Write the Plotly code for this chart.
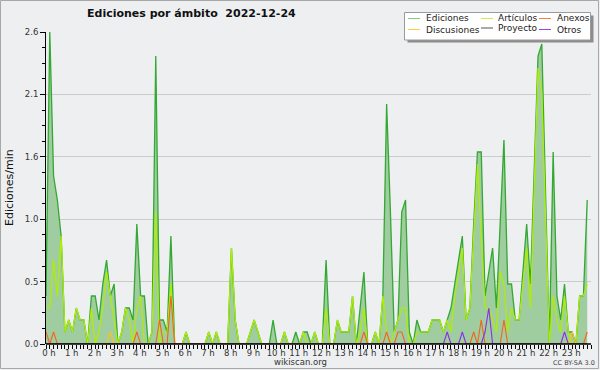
import plotly.graph_objects as go

# ---------------- data (edits per minute, 10-minute bins, 2022-12-24) ----------------
hora = [i / 6 for i in range(144)]  # bin start, in hours

ediciones = [
    0.4, 2.6, 1.4, 1.2, 0.9, 0.1, 0.2, 0.1, 0.3, 0.2, 0.2, 0.0,
    0.4, 0.4, 0.2, 0.5, 0.7, 0.4, 0.5, 0.0, 0.1, 0.3, 0.3, 0.2,
    1.0, 0.4, 0.4, 0.0, 0.1, 2.4, 0.2, 0.2, 0.1, 0.9, 0.0, 0.0,
    0.0, 0.1, 0.0, 0.0, 0.0, 0.0, 0.0, 0.1, 0.0, 0.1, 0.0, 0.0,
    0.0, 0.8, 0.2, 0.0, 0.0, 0.0, 0.1, 0.2, 0.1, 0.0, 0.0, 0.0,
    0.2, 0.0, 0.0, 0.1, 0.0, 0.0, 0.1, 0.0, 0.1, 0.1, 0.0, 0.1,
    0.0, 0.0, 0.7, 0.0, 0.0, 0.2, 0.1, 0.1, 0.1, 0.4, 0.0, 0.3,
    0.6, 0.0, 0.0, 0.1, 0.0, 0.4, 2.0, 1.1, 0.1, 0.2, 1.1, 1.2,
    0.1, 0.0, 0.2, 0.1, 0.1, 0.1, 0.2, 0.2, 0.2, 0.1, 0.2, 0.3,
    0.5, 0.7, 0.9, 0.2, 0.3, 1.0, 1.6, 1.6, 0.4, 0.6, 0.8, 0.3,
    1.0, 1.7, 0.5, 0.5, 0.2, 0.2, 0.6, 1.0, 0.5, 1.5, 2.4, 2.5,
    1.3, 0.0, 1.6, 0.4, 0.2, 0.5, 0.1, 0.1, 0.0, 0.4, 0.4, 1.2,
]

articulos = [
    0.3, 0.3, 0.7, 0.4, 0.9, 0.1, 0.2, 0.1, 0.3, 0.2, 0.2, 0.0,
    0.3, 0.0, 0.1, 0.3, 0.6, 0.4, 0.2, 0.0, 0.1, 0.3, 0.2, 0.0,
    0.3, 0.4, 0.0, 0.0, 0.1, 1.1, 0.0, 0.1, 0.1, 0.5, 0.0, 0.0,
    0.0, 0.1, 0.0, 0.0, 0.0, 0.0, 0.0, 0.1, 0.0, 0.1, 0.0, 0.0,
    0.0, 0.8, 0.2, 0.0, 0.0, 0.0, 0.1, 0.2, 0.1, 0.0, 0.0, 0.0,
    0.0, 0.0, 0.0, 0.1, 0.0, 0.0, 0.0, 0.0, 0.1, 0.0, 0.0, 0.1,
    0.0, 0.0, 0.3, 0.0, 0.0, 0.2, 0.1, 0.1, 0.1, 0.4, 0.0, 0.1,
    0.3, 0.0, 0.0, 0.1, 0.0, 0.4, 0.1, 0.0, 0.1, 0.2, 0.3, 0.3,
    0.0, 0.0, 0.1, 0.1, 0.1, 0.1, 0.2, 0.2, 0.2, 0.1, 0.2, 0.1,
    0.4, 0.6, 0.8, 0.2, 0.3, 0.9, 1.5, 0.9, 0.3, 0.3, 0.2, 0.1,
    0.6, 0.5, 0.1, 0.3, 0.2, 0.2, 0.5, 0.8, 0.3, 1.3, 2.3, 2.1,
    1.0, 0.0, 0.4, 0.2, 0.1, 0.4, 0.1, 0.0, 0.0, 0.4, 0.4, 0.5,
]

anexos = [
    0.1, 0.0, 0.1, 0.0, 0.0, 0.0, 0.0, 0.0, 0.0, 0.0, 0.0, 0.0,
    0.0, 0.0, 0.0, 0.0, 0.0, 0.0, 0.0, 0.0, 0.0, 0.0, 0.0, 0.0,
    0.1, 0.0, 0.0, 0.0, 0.0, 0.0, 0.2, 0.0, 0.0, 0.4, 0.0, 0.0,
    0.0, 0.0, 0.0, 0.0, 0.0, 0.0, 0.0, 0.0, 0.0, 0.0, 0.0, 0.0,
    0.0, 0.0, 0.0, 0.0, 0.0, 0.0, 0.0, 0.0, 0.0, 0.0, 0.0, 0.0,
    0.0, 0.0, 0.0, 0.0, 0.0, 0.0, 0.0, 0.0, 0.0, 0.0, 0.0, 0.0,
    0.0, 0.0, 0.0, 0.0, 0.0, 0.0, 0.0, 0.0, 0.0, 0.0, 0.0, 0.0,
    0.1, 0.0, 0.0, 0.0, 0.0, 0.0, 0.1, 0.0, 0.0, 0.1, 0.1, 0.0,
    0.0, 0.0, 0.0, 0.0, 0.0, 0.0, 0.0, 0.0, 0.0, 0.0, 0.0, 0.0,
    0.0, 0.0, 0.0, 0.0, 0.0, 0.1, 0.0, 0.2, 0.0, 0.0, 0.0, 0.0,
    0.0, 0.2, 0.0, 0.0, 0.0, 0.0, 0.0, 0.0, 0.0, 0.0, 0.0, 0.0,
    0.0, 0.0, 0.0, 0.0, 0.0, 0.0, 0.0, 0.0, 0.0, 0.0, 0.0, 0.1,
]

discusiones = [
    0.0, 0.0, 0.0, 0.0, 0.0, 0.0, 0.0, 0.0, 0.0, 0.0, 0.0, 0.0,
    0.0, 0.0, 0.0, 0.0, 0.0, 0.1, 0.0, 0.0, 0.0, 0.0, 0.0, 0.0,
    0.0, 0.0, 0.0, 0.0, 0.0, 0.0, 0.0, 0.0, 0.0, 0.0, 0.0, 0.0,
    0.0, 0.0, 0.0, 0.0, 0.0, 0.0, 0.0, 0.0, 0.0, 0.0, 0.0, 0.0,
    0.0, 0.0, 0.0, 0.0, 0.0, 0.0, 0.0, 0.0, 0.0, 0.0, 0.0, 0.0,
    0.0, 0.0, 0.0, 0.0, 0.0, 0.0, 0.0, 0.0, 0.0, 0.0, 0.0, 0.0,
    0.0, 0.0, 0.0, 0.0, 0.0, 0.0, 0.0, 0.0, 0.0, 0.0, 0.0, 0.0,
    0.0, 0.0, 0.0, 0.0, 0.0, 0.0, 0.0, 0.0, 0.0, 0.0, 0.0, 0.0,
    0.0, 0.0, 0.0, 0.0, 0.0, 0.0, 0.0, 0.0, 0.0, 0.0, 0.0, 0.0,
    0.0, 0.0, 0.0, 0.0, 0.0, 0.0, 0.0, 0.0, 0.0, 0.0, 0.0, 0.0,
    0.0, 0.0, 0.0, 0.0, 0.0, 0.0, 0.0, 0.0, 0.0, 0.0, 0.0, 0.0,
    0.0, 0.0, 0.0, 0.0, 0.0, 0.0, 0.0, 0.1, 0.0, 0.0, 0.0, 0.0,
]

proyecto = [
    0.0, 0.0, 0.0, 0.0, 0.0, 0.0, 0.0, 0.0, 0.0, 0.0, 0.0, 0.0,
    0.0, 0.0, 0.0, 0.0, 0.0, 0.0, 0.0, 0.0, 0.0, 0.0, 0.0, 0.0,
    0.0, 0.0, 0.0, 0.0, 0.0, 0.0, 0.0, 0.0, 0.0, 0.0, 0.0, 0.0,
    0.0, 0.0, 0.0, 0.0, 0.0, 0.0, 0.0, 0.0, 0.0, 0.0, 0.0, 0.0,
    0.0, 0.0, 0.0, 0.0, 0.0, 0.0, 0.0, 0.0, 0.0, 0.0, 0.0, 0.0,
    0.0, 0.0, 0.0, 0.0, 0.0, 0.0, 0.0, 0.0, 0.0, 0.0, 0.0, 0.0,
    0.0, 0.0, 0.0, 0.0, 0.0, 0.0, 0.0, 0.0, 0.0, 0.0, 0.0, 0.0,
    0.0, 0.0, 0.0, 0.0, 0.0, 0.0, 0.0, 0.0, 0.0, 0.0, 0.0, 0.0,
    0.0, 0.0, 0.0, 0.0, 0.0, 0.0, 0.0, 0.0, 0.0, 0.0, 0.0, 0.0,
    0.0, 0.0, 0.0, 0.0, 0.0, 0.0, 0.0, 0.0, 0.0, 0.0, 0.0, 0.0,
    0.0, 0.0, 0.0, 0.0, 0.0, 0.0, 0.0, 0.0, 0.0, 0.0, 0.0, 0.0,
    0.0, 0.0, 0.0, 0.0, 0.0, 0.0, 0.0, 0.0, 0.0, 0.0, 0.0, 0.0,
]

otros = [
    0.0, 0.0, 0.0, 0.0, 0.0, 0.0, 0.0, 0.0, 0.0, 0.0, 0.0, 0.0,
    0.0, 0.0, 0.0, 0.0, 0.0, 0.0, 0.0, 0.0, 0.0, 0.0, 0.0, 0.0,
    0.0, 0.0, 0.0, 0.0, 0.0, 0.0, 0.0, 0.0, 0.0, 0.0, 0.0, 0.0,
    0.0, 0.0, 0.0, 0.0, 0.0, 0.0, 0.0, 0.0, 0.0, 0.0, 0.0, 0.0,
    0.0, 0.0, 0.0, 0.0, 0.0, 0.0, 0.0, 0.0, 0.0, 0.0, 0.0, 0.0,
    0.0, 0.0, 0.0, 0.0, 0.0, 0.0, 0.0, 0.0, 0.0, 0.0, 0.0, 0.0,
    0.0, 0.0, 0.0, 0.0, 0.0, 0.0, 0.0, 0.0, 0.0, 0.0, 0.0, 0.0,
    0.0, 0.0, 0.0, 0.0, 0.0, 0.0, 0.0, 0.0, 0.0, 0.0, 0.0, 0.0,
    0.0, 0.0, 0.0, 0.0, 0.0, 0.0, 0.0, 0.0, 0.0, 0.0, 0.1, 0.0,
    0.0, 0.0, 0.1, 0.0, 0.0, 0.0, 0.0, 0.0, 0.1, 0.3, 0.0, 0.0,
    0.0, 0.0, 0.0, 0.0, 0.0, 0.0, 0.0, 0.0, 0.0, 0.0, 0.0, 0.0,
    0.0, 0.0, 0.0, 0.0, 0.0, 0.1, 0.0, 0.0, 0.0, 0.0, 0.0, 0.0,
]

hour_ticks = [0, 1, 2, 3, 4, 5, 6, 7, 8, 9, 10, 11,
              12, 13, 14, 15, 16, 17, 18, 19, 20, 21, 22, 23]
hour_labels = ["0 h", "1 h", "2 h", "3 h", "4 h", "5 h", "6 h", "7 h",
               "8 h", "9 h", "10 h", "11 h", "12 h", "13 h", "14 h", "15 h",
               "16 h", "17 h", "18 h", "19 h", "20 h", "21 h", "22 h", "23 h"]
y_ticks = [0.0, 0.52, 1.04, 1.56, 2.08, 2.6]
y_labels = ["0.0", "0.5", "1.0", "1.6", "2.1", "2.6"]

# ---------------- styling ----------------
W, H = 600, 370
L, R, T, B = 46, 9, 32, 26
PW, PH = W - L - R, H - T - B
BG = "#eeeff1"
FONT = "DejaVu Sans, Verdana, sans-serif"

C_ED_LINE = "#33a833"
C_ED_FILL = "rgb(160,205,160)"
C_ART = "#b0ee00"
C_ANX = "#f5621e"
C_DIS = "#ffc21a"
C_PRO = "#555555"
C_OTR = "#8a2ee6"


def px(x):
    return (x - L) / PW


def py(y):
    return (H - B - y) / PH


fig = go.Figure()
fig.add_trace(go.Scatter(x=hora, y=ediciones, mode="lines", fill="tozeroy",
                         fillcolor=C_ED_FILL, line=dict(color=C_ED_LINE, width=1.3),
                         name="Ediciones", hoverinfo="skip"))
fig.add_trace(go.Scatter(x=hora, y=proyecto, mode="lines",
                         line=dict(color=C_PRO, width=1), name="Proyecto", hoverinfo="skip"))
fig.add_trace(go.Scatter(x=hora, y=articulos, mode="lines",
                         line=dict(color=C_ART, width=1.2), name="Artículos", hoverinfo="skip"))
fig.add_trace(go.Scatter(x=hora, y=discusiones, mode="lines",
                         line=dict(color=C_DIS, width=1.1), name="Discusiones", hoverinfo="skip"))
fig.add_trace(go.Scatter(x=hora, y=anexos, mode="lines",
                         line=dict(color=C_ANX, width=1.1), name="Anexos", hoverinfo="skip"))
fig.add_trace(go.Scatter(x=hora, y=otros, mode="lines",
                         line=dict(color=C_OTR, width=1.1), name="Otros", hoverinfo="skip"))

shapes = []
annotations = []

# x axis baseline drawn above traces
shapes.append(dict(type="line", xref="paper", yref="paper", x0=0, x1=1, y0=0, y1=0,
                   line=dict(color="black", width=1.5), layer="above"))
# outer frame
shapes.append(dict(type="rect", xref="paper", yref="paper",
                   x0=px(0.5), x1=px(598.5), y0=py(368.5), y1=py(0.5),
                   line=dict(color="#a8a8a8", width=1), layer="below"))

# legend box (shadow + box)
shapes.append(dict(type="rect", xref="paper", yref="paper",
                   x0=px(407.5), x1=px(593.5), y0=py(42.5), y1=py(15.5),
                   fillcolor="#8c8c8c", line=dict(width=0), layer="above"))
shapes.append(dict(type="rect", xref="paper", yref="paper",
                   x0=px(404.5), x1=px(590.5), y0=py(40), y1=py(12.5),
                   fillcolor="white", line=dict(color="#9a9a9a", width=1), layer="above"))

legend_items = [
    ("Ediciones", "#7fcc7f", 408, 424, 18.5),
    ("Artículos", "#c8ee4a", 481, 496, 18.5),
    ("Anexos", "#ff7a45", 539, 555, 18.5),
    ("Discusiones", "#ffcc44", 408, 424, 29.5),
    ("Proyecto", "#555555", 481, 496, 28.0),
    ("Otros", "#9944ee", 539, 555, 29.5),
]
for label, col, sx, tx, yy in legend_items:
    shapes.append(dict(type="line", xref="paper", yref="paper",
                       x0=px(sx), x1=px(sx + 12), y0=py(yy), y1=py(yy),
                       line=dict(color=col, width=1), layer="above"))
    annotations.append(dict(text=label, xref="paper", yref="paper", x=px(tx), y=py(yy),
                            xanchor="left", yanchor="middle", showarrow=False,
                            font=dict(family=FONT, size=9, color="#222")))

# title
annotations.append(dict(text="<b>Ediciones por ámbito\u00a0\u00a02022-12-24</b>",
                        xref="paper", yref="paper", x=px(85), y=py(14),
                        xanchor="left", yanchor="middle", showarrow=False,
                        font=dict(family=FONT, size=11, color="#111")))
# y axis title
annotations.append(dict(text="Ediciones/min", xref="paper", yref="paper",
                        x=px(9), y=py(188), xanchor="center", yanchor="middle",
                        textangle=-90, showarrow=False,
                        font=dict(family=FONT, size=11, color="#111")))
# footer
annotations.append(dict(text="wikiscan.org", xref="paper", yref="paper",
                        x=px(300), y=py(361.5), xanchor="center", yanchor="middle",
                        showarrow=False, font=dict(family=FONT, size=8.5, color="#333")))
annotations.append(dict(text="CC BY-SA 3.0", xref="paper", yref="paper",
                        x=px(597), y=py(362.5), xanchor="right", yanchor="middle",
                        showarrow=False, font=dict(family=FONT, size=6.5, color="#444")))

fig.update_layout(
    width=W, height=H,
    margin=dict(l=L, r=R, t=T, b=B, pad=0),
    paper_bgcolor=BG, plot_bgcolor=BG,
    showlegend=False,
    font=dict(family=FONT, size=8.5, color="#333"),
    shapes=shapes, annotations=annotations,
    xaxis=dict(range=[0, 24], tickmode="array", tickvals=hour_ticks, ticktext=hour_labels,
               ticks="outside", ticklen=4, tickwidth=1, tickcolor="black",
               ticklabelstandoff=-3, ticklabelshift=3,
               showgrid=False, zeroline=False, showline=False, fixedrange=True,
               tickfont=dict(family=FONT, size=8.5, color="#333"),
               minor=dict(tickmode="linear", tick0=0, dtick=1 / 6, ticks="outside",
                          ticklen=4, tickwidth=1, tickcolor="black", showgrid=False)),
    yaxis=dict(range=[0, 2.6], tickmode="array", tickvals=y_ticks, ticktext=y_labels,
               ticks="outside", ticklen=5, tickwidth=1, tickcolor="black",
               showgrid=True, gridcolor="#cbcbcb", gridwidth=1,
               zeroline=False, showline=True, linecolor="black", linewidth=1,
               layer="above traces", fixedrange=True,
               tickfont=dict(family=FONT, size=8.5, color="#333"),
               minor=dict(tickmode="linear", tick0=0, dtick=0.13, ticks="outside",
                          ticklen=3, tickwidth=1, tickcolor="black", showgrid=False)),
)

fig.write_html("out.html", config={"staticPlot": True},
               post_script="document.body.style.margin='0';document.body.style.padding='0';")
